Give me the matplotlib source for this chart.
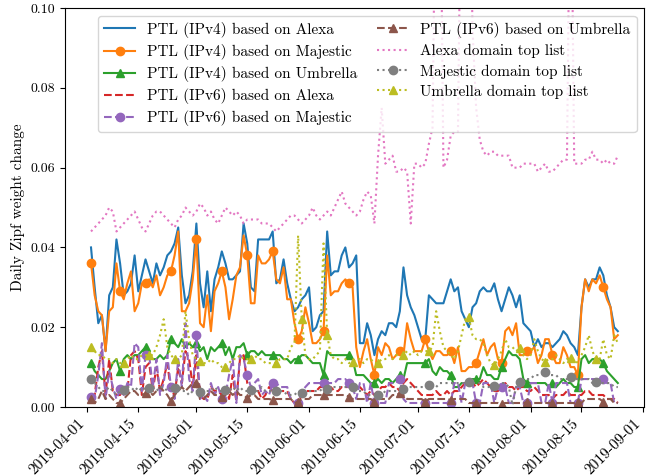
import numpy as np
import pandas as pd
import matplotlib
matplotlib.use("Agg")
import matplotlib.pyplot as plt
import matplotlib.dates as mdates
from matplotlib.ticker import FormatStrFormatter

plt.rcParams["font.family"] = "cmr10"
plt.rcParams["axes.formatter.use_mathtext"] = True
plt.rcParams["font.size"] = 10

# daily values, in units of 1e-3
days = pd.date_range("2019-04-02", "2019-08-25", freq="D")

ipv4_alexa = [
    40, 30, 21, 23, 14, 28, 30, 42, 36, 28,
    29, 31, 38, 29, 33, 37, 34, 31, 36, 33,
    35, 38, 39, 41, 45, 33, 26, 28, 34, 46,
    31, 25, 34, 24, 32, 35, 39, 36, 32, 32,
    33, 34, 46, 41, 30, 29, 42, 42, 42, 42,
    44, 31, 32, 37, 31, 27, 24, 25, 27, 28,
    30, 19, 20, 23, 24, 44, 33, 34, 34, 38,
    40, 35, 36, 38, 16, 16, 21, 18, 13, 17,
    19, 18, 21, 21, 20, 24, 35, 28, 25, 23,
    20, 17, 17, 28, 27, 26, 26, 26, 29, 32,
    29, 30, 24, 22, 20, 25, 26, 29, 30, 29,
    29, 31, 27, 24, 27, 30, 28, 25, 28, 21,
    20, 19, 15, 17, 15, 16, 16, 15, 16, 17,
    19, 18, 16, 15, 13, 25, 32, 30, 32, 32,
    35, 33, 28, 25, 20, 19]

ipv4_majestic = [
    36, 28, 24, 23, 14, 24, 25, 36, 29, 27,
    31, 34, 24, 26, 31, 31, 32, 30, 33, 28,
    30, 33, 34, 38, 44, 24, 24, 26, 32, 42,
    21, 20, 28, 19, 29, 31, 34, 30, 22, 27,
    33, 35, 43, 38, 26, 26, 38, 36, 36, 37,
    39, 32, 31, 35, 27, 27, 21, 17, 19, 25,
    21, 16, 16, 17, 19, 38, 28, 29, 29, 31,
    32, 31, 30, 15, 10, 14, 17, 12, 8, 15,
    13, 16, 15, 12, 13, 14, 13, 21, 17, 14,
    14, 14, 17, 14, 12, 14, 14, 13, 13, 14,
    11, 15, 9, 9, 10, 10, 11, 14, 17, 13,
    15, 16, 12, 11, 19, 20, 18, 21, 13, 13,
    14, 14, 15, 11, 13, 17, 17, 13, 11, 11,
    15, 13, 10, 10, 8, 25, 32, 29, 32, 31,
    33, 30, 27, 25, 17, 18]

ipv4_umbrella = [
    11, 9, 8, 7, 7, 9, 11, 12, 9, 12,
    13, 12, 13, 13, 14, 15, 13, 12, 12, 13,
    12, 13, 17, 16, 15, 17, 15, 16, 15, 16,
    14, 15, 12, 15, 14, 15, 16, 13, 15, 12,
    15, 15, 16, 13, 14, 14, 13, 14, 13, 13,
    13, 13, 13, 12, 12, 11, 12, 12, 13, 13,
    12, 11, 11, 11, 8, 14, 13, 13, 13, 13,
    13, 13, 12, 8, 8, 8, 7, 6, 6, 7,
    6, 7, 7, 6, 7, 8, 7, 11, 11, 11,
    11, 11, 11, 12, 9, 8, 10, 9, 9, 8,
    5, 5, 6, 6, 7, 7, 7, 7, 10, 8,
    8, 7, 7, 10, 12, 14, 13, 13, 12, 7,
    6, 6, 6, 6, 6, 6, 5, 6, 5, 6,
    7, 6, 6, 5, 5, 12, 13, 11, 12, 12,
    12, 11, 9, 8, 7, 6]

ipv6_alexa = [
    2, 3, 10, 14, 3, 12, 4, 3, 3, 5,
    4, 13, 14, 12, 3, 10, 11, 4, 10, 4,
    7, 11, 4, 3, 10, 6, 14, 12, 5, 13,
    3, 2, 2, 5, 4, 4, 3, 5, 2, 8,
    1.5, 12, 13, 6, 4, 4, 4, 2, 3, 5,
    4, 4, 4, 4, 4, 2, 1, 1, 3, 4,
    4, 4, 4, 5, 5, 5, 5, 4, 4, 5,
    5, 5, 5, 5, 5, 4, 3, 4, 3, 4,
    5, 5, 6, 5, 5, 4, 6, 7, 6, 5,
    4, 3, 3, 3, 3, 4, 3, 3, 4, 3,
    4, 4, 5, 6, 6, 6, 5, 6, 7, 6,
    5, 4, 4, 5, 6, 5, 5, 4, 5, 5,
    4, 4, 5, 4, 3, 3, 3, 2, 3, 3,
    3, 4, 3, 3, 3, 3, 4, 4, 3, 3,
    3, 3, 2, 2, 2, 1]

ipv6_majestic = [
    2.6, 2, 8, 16, 2, 9, 5, 2, 4.4, 3,
    6, 5, 16, 15, 4, 13, 13, 5, 12, 3,
    6, 13, 5, 2, 12, 5, 21, 7, 4, 18,
    2, 3, 1.5, 6, 3, 5, 2, 3, 8, 12,
    1, 13, 12, 8, 5, 6, 7, 3, 4, 3,
    6, 6, 5, 5, 5, 2, 1, 1, 4, 5,
    6, 6, 6, 6, 6, 6, 6, 6, 7, 7,
    7, 6, 5, 2, 6, 6, 1, 6, 1, 1,
    1, 1, 6, 6, 6, 7, 2, 1, 1, 1,
    1, 1, 1, 1, 1, 1, 1, 1, 1, 1,
    6, 6, 1, 6, 6, 6, 1, 1, 6, 6,
    6, 1, 5, 5, 5, 1, 1, 5, 5, 1,
    1, 6, 6, 6, 1, 1, 6, 1, 6, 6,
    6, 6, 1, 1, 1, 7, 7, 7, 7, 7,
    7, 7, 6, 6, 1, 1]

ipv6_umbrella = [
    2, 1, 2, 4, 2, 3, 2, 1, 1, 2,
    3, 4, 4, 3, 3, 3.4, 4, 3, 4, 5,
    4, 3, 1.5, 3, 4, 5, 4, 5, 6, 6,
    2, 2, 3, 4, 3, 3, 2.6, 3, 4, 3,
    4, 3, 3, 2.2, 3, 3, 2, 2, 2, 2,
    1.8, 2, 2, 2, 2, 2, 1, 1.3, 2, 2,
    2, 3, 3, 3, 3, 3, 3, 3, 3, 3,
    3, 2.6, 2, 2, 2, 2, 2, 2, 1.3, 2,
    2, 2, 2, 3, 3, 3.4, 3, 2, 2, 2,
    2, 2, 1.3, 2, 2, 2, 2, 2, 2, 1.8,
    2, 2, 2, 2, 1, 1, 1.1, 1, 1, 1,
    1, 1, 1, 0.7, 1, 1, 1, 1, 1, 1,
    1.2, 1, 1, 1, 1, 1, 1, 0.9, 1, 1,
    1, 1, 1, 1, 1.3, 1, 2, 2, 2, 2,
    2, 1.3, 2, 2, 1, 1]

alexa_list = [
    44, 45, 46, 47, 48, 50, 49, 44, 45, 46,
    47, 48, 49, 47, 45, 44, 46, 48, 49, 49,
    48, 47, 46, 45, 47, 48, 50, 49, 48, 49,
    51, 50, 48, 49, 47, 46, 48, 50, 49, 48,
    49, 48, 46, 47, 47, 47, 47, 46, 46, 46,
    45, 44, 45, 46, 47, 48, 48, 47, 46, 47,
    48, 50, 48, 47, 48, 49, 48, 50, 52, 54,
    51, 50, 49, 48, 49, 52, 54, 53, 46, 63,
    75, 61, 62, 63, 59, 59, 60, 59, 46, 61,
    61, 60, 61, 66, 70, 150, 150, 60, 62, 68,
    69, 69, 150, 150, 150, 95, 75, 67, 64, 63,
    64, 64, 63, 63, 63, 63, 60, 60, 60, 61,
    61, 61, 61, 59, 60, 61, 59, 59, 60, 61,
    62, 62, 150, 61, 61, 61, 62, 62, 64, 62,
    62, 61, 62, 61, 61, 63]

majestic_list = [
    7, 6, 5, 4, 4, 5, 4, 3, 4, 4.3,
    5, 5, 4, 5, 4, 5, 4.8, 5, 4, 5,
    5, 4, 5, 4.8, 5, 4, 4, 3, 4, 4,
    3.8, 4, 4, 4, 5, 4, 4, 4.3, 4, 5,
    4, 5, 4, 4, 4.3, 4, 4, 5, 4, 4,
    4, 4.1, 4, 4, 3, 3, 3, 4, 3.6, 4,
    4, 4, 4, 4, 5, 4.4, 5, 5, 5, 5,
    5, 5, 5.1, 4, 4, 4, 3, 3, 3, 3,
    3, 4, 4, 4, 4, 4, 4.4, 5, 5, 5,
    5, 5, 5, 5.5, 5, 5, 6, 6, 6, 6,
    6, 6, 6, 6, 6.2, 6, 6, 6, 5, 5,
    5, 5.3, 5, 6, 6, 5, 0.5, 5, 6.3, 6,
    7, 7, 8, 8, 8, 8.7, 8, 8, 8, 7,
    7, 7, 7.4, 7, 7, 7, 7, 7, 6, 6.3,
    6, 6, 6, 6, 5, 5]

umbrella_list = [
    15, 14, 13, 13, 12, 12, 11, 12, 11, 11,
    12, 13, 12, 12, 13, 13, 13, 13, 15, 18,
    22, 15, 13, 12, 12, 13, 24, 17, 13, 12,
    11.6, 11, 11, 12, 11, 11, 10, 10, 11, 12,
    12, 13, 12, 12, 12, 13, 12, 12, 11, 11,
    11, 11, 12, 12, 12, 15, 16, 43, 22, 13,
    12, 12, 13, 14, 41, 18, 13, 12, 12, 11,
    12, 11, 11.4, 12, 12, 11, 12, 12, 11, 11,
    12, 12, 13, 12, 13, 13, 13, 14, 13, 14,
    13, 14, 14, 14, 15, 24, 19, 15, 14, 13,
    12, 14, 18, 22, 22.5, 18, 17, 17, 16, 13,
    11, 10.4, 12, 14, 17, 15, 15, 14, 14.7, 13,
    12, 13, 17, 14, 12, 11.4, 12, 12, 13, 12,
    11, 12, 12.2, 12, 11, 13, 15, 18, 14, 12,
    12, 17, 13, 12, 18, 16]

labels = [
    "PTL (IPv4) based on Alexa",
    "PTL (IPv4) based on Majestic",
    "PTL (IPv4) based on Umbrella",
    "PTL (IPv6) based on Alexa",
    "PTL (IPv6) based on Majestic",
    "PTL (IPv6) based on Umbrella",
    "Alexa domain top list",
    "Majestic domain top list",
    "Umbrella domain top list",
]

# marker positions (weekly)
ptl_marks = [0] + list(range(8, len(days), 7))
list_marks = [0] + list(range(9, 94, 7)) + list(range(104, len(days), 7))

series = [
    (ipv4_alexa, "-", None, ptl_marks),
    (ipv4_majestic, "-", "o", ptl_marks),
    (ipv4_umbrella, "-", "^", ptl_marks),
    (ipv6_alexa, "--", None, ptl_marks),
    (ipv6_majestic, "--", "o", ptl_marks),
    (ipv6_umbrella, "--", "^", ptl_marks),
    (alexa_list, ":", None, list_marks),
    (majestic_list, ":", "o", list_marks),
    (umbrella_list, ":", "^", list_marks),
]

fig = plt.figure(figsize=(6.6, 4.76), dpi=100)
ax = fig.add_axes([0.098, 0.145, 0.878, 0.838])

for i, (vals, ls, mk, marks) in enumerate(series):
    y = np.array(vals) * 1e-3
    ax.plot(days, y, linestyle=ls, marker=mk, markevery=marks,
            color="C%d" % i, label=labels[i])

ax.set_ylim(0, 0.1)
ax.yaxis.set_major_formatter(FormatStrFormatter("%.2f"))
ax.set_ylabel("Daily Zipf weight change", fontsize=11)
ax.xaxis.set_major_locator(mdates.DayLocator(bymonthday=[1, 15]))
ax.xaxis.set_major_formatter(mdates.DateFormatter("%Y-%m-%d"))
ax.tick_params(axis="x", labelsize=11)
plt.setp(ax.get_xticklabels(), rotation=45, ha="right")
ax.legend(ncol=2, loc="upper right", fontsize=11,
          columnspacing=1.3, labelspacing=0.4)

fig.savefig("out.png", dpi=100)
